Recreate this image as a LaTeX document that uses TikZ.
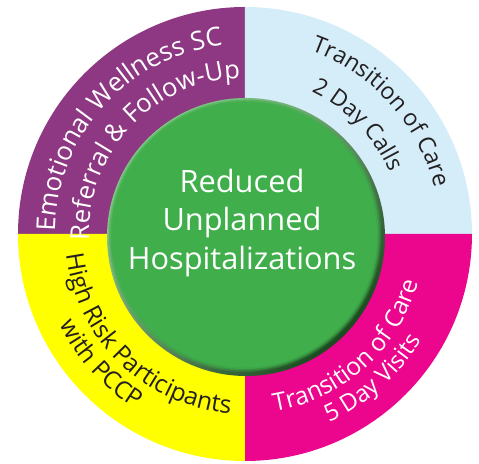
\documentclass[tikz,border=0pt]{standalone}
\usepackage{fontspec}
\setmainfont{Open Sans}
\usetikzlibrary{decorations.text}

\definecolor{wellpurple}{HTML}{8E3883}
\definecolor{callblue}{HTML}{D5EDF9}
\definecolor{riskyellow}{HTML}{FFFF00}
\definecolor{visitpink}{HTML}{EC068D}
\definecolor{hubgreen}{HTML}{3FAE4B}
\definecolor{hubdark}{HTML}{1B4A1F}
\definecolor{hublight}{HTML}{A6D8A8}
\definecolor{inkgray}{HTML}{231F20}

% text running clockwise, letters upright outwards
% #1 radius, #2 middle angle, #3 colour, #4 size, #5 text
\newcommand{\cwlabel}[5]{%
  \path[decorate, decoration={text along path, text align=center,
    text color=#3, text={|\fontsize{#4}{18}\selectfont|#5}}]
    (#2+70:#1) arc (#2+70:#2-70:#1);}
% text running counterclockwise, letters upright inwards
\newcommand{\ccwlabel}[5]{%
  \path[decorate, decoration={text along path, text align=center,
    text color=#3, text={|\fontsize{#4}{18}\selectfont|#5}}]
    (#2-70:#1) arc (#2-70:#2+70:#1);}

\begin{document}
\begin{tikzpicture}
\useasboundingbox (-4.9,-4.6) rectangle (4.68,4.68);

% the four quarters of the ring
\fill[wellpurple] (0,0) -- (180:4.54) arc (180:90:4.54) -- cycle;
\fill[callblue] (0,0) -- (90:4.54) arc (90:0:4.54) -- cycle;
\fill[visitpink] (0,0) -- (0:4.54) arc (0:-90:4.54) -- cycle;
\fill[riskyellow] (0,0) -- (-90:4.54) arc (-90:-180:4.54) -- cycle;

% quarter labels
\cwlabel{3.8}{138}{white}{14.8}{Emotional Wellness SC}
\cwlabel{3.12}{137}{white}{14.6}{Referral {\&} Follow-Up}
\cwlabel{3.9}{42}{inkgray}{13.2}{Transition of Care}
\cwlabel{3.14}{44}{inkgray}{13}{2 Day Calls}
\ccwlabel{3.6}{226}{inkgray}{14}{High Risk Participants}
\ccwlabel{4.12}{222}{inkgray}{13.8}{with PCCP}
\ccwlabel{3.6}{312}{white}{14}{Transition of Care}
\ccwlabel{4.12}{311.5}{white}{13.5}{5 Day Visits}

% green button in the middle
\coordinate (hub) at (0.02,-0.06);
\shade[shading=axis, top color=hublight, bottom color=hubdark, shading angle=45]
  (hub) circle (2.78);
\foreach \r/\o in {2.74/30, 2.71/50, 2.68/75, 2.65/100}
  \fill[hubgreen, opacity=\o/100] ([shift={(-0.03,0.04)}]hub) circle (\r);

\node[text=white, align=center, font=\fontsize{17.5}{21.8}\selectfont]
  (goal) at (-0.06,0.22) {Reduced\\Unplanned\\Hospitalizations};
\end{tikzpicture}
\end{document}
